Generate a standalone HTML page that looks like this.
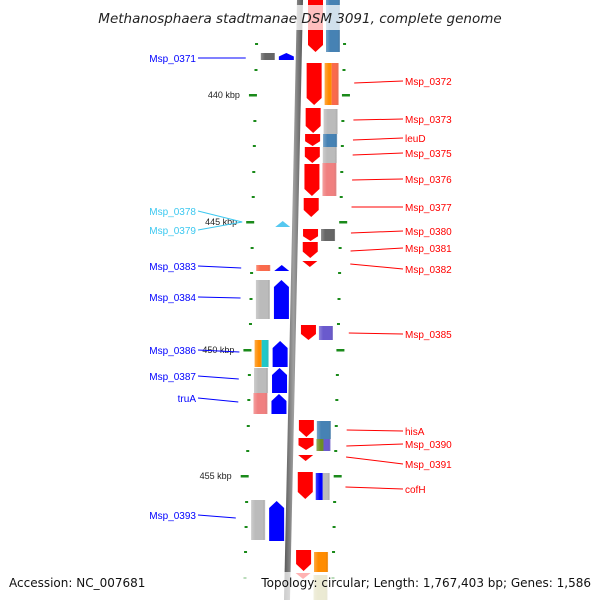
<!DOCTYPE html>
<html><head><meta charset="utf-8"><style>
html,body{margin:0;padding:0;background:#fff}
svg{display:block;font-family:"Liberation Sans",sans-serif}
</style></head><body>
<svg id="map" width="600" height="600" viewBox="0 0 600 600">
<defs>
<linearGradient id="bb" x1="0" x2="1" y1="0" y2="0"><stop offset="0" stop-color="#555"/><stop offset="0.5" stop-color="#a0a0a0"/><stop offset="1" stop-color="#555"/></linearGradient>
<linearGradient id="sh" x1="0" x2="1" y1="0" y2="0"><stop offset="0" stop-color="#fff" stop-opacity="0.25"/><stop offset="0.3" stop-color="#fff" stop-opacity="0"/><stop offset="0.85" stop-color="#000" stop-opacity="0"/><stop offset="1" stop-color="#fff" stop-opacity="0.3"/></linearGradient>
</defs>
<g id="ticks"></g>
<g id="genes"></g>
<polygon points="297,0 303,0 290,600 284,600" fill="url(#bb)"/>
<g id="labels"></g>
<rect x="96" y="5" width="410" height="25" fill="#fff" fill-opacity="0.75"/>
<text x="300" y="23" text-anchor="middle" font-size="13.5" font-style="italic" fill="#222" font-family="DejaVu Sans, sans-serif">Methanosphaera stadtmanae DSM 3091, complete genome</text>
<rect x="0" y="572" width="600" height="28" fill="#fff" fill-opacity="0.7"/>
<text x="9" y="587" font-size="12" fill="#111" font-family="DejaVu Sans, sans-serif">Accession: NC_007681</text>
<text x="591" y="587" text-anchor="end" font-size="12" fill="#111" font-family="DejaVu Sans, sans-serif">Topology: circular; Length: 1,767,403 bp; Genes: 1,586</text>
</svg>
<script>
function bx(y){return 301-13*y/600;}
const NS="http://www.w3.org/2000/svg";
function mk(tag,attrs,parent){const e=document.createElementNS(NS,tag);for(const k in attrs)e.setAttribute(k,attrs[k]);parent.appendChild(e);return e;}

const rightArrowY0=[0,63,108,134,147,164,198,229,242,325,420,438,472,550];
const rightArrowY1=[52,105,133,146,163,196,217,241,258,340,437,450,499,571];
const rightTiny=[261,455,573];
const rightBoxY0=[0,63,109,134,147,163,229,326,421,439,473,552,575];
const rightBoxY1=[52,105,134,147,163,196,241,340,439,451,500,572,600];
const rightBoxCol=[["#4682b4"],["#ff8c00","#fa6a4c"],["#bbb"],["#4682b4"],["#bbb"],["#f08080"],["#666"],["#6a5acd"],["#4682b4"],["#6b8e23","#6a5acd"],["#0000ff","#bbb"],["#ff8c00"],["#bdb76b"]];
const leftArrowY0=[53,280,341,368,394,501];
const leftArrowY1=[60,319,367,393,414,541];
const leftTiny=[[221,"#55c8f0"],[265,"#0000ff"]];
const leftBoxY0=[53,265,280,340,368,393,500];
const leftBoxY1=[60,271,319,367,393,414,540];
const leftBoxCol=[["#666"],["#fa6a4c"],["#bbb"],["#ff8c00","#20c8c8"],["#bbb"],["#f08080"],["#bbb"]];

const minorTicks=[44,70,121,146,172,197,248,273,299,324,375,400,426,451,502,527,552,578];
const majorTicks=[95,222,350,476];
const majorLabels=["440 kbp","445 kbp","450 kbp","455 kbp"];

const leftLabels=["Msp_0371","Msp_0378","Msp_0379","Msp_0383","Msp_0384","Msp_0386","Msp_0387","truA","Msp_0393"];
const leftLabelY=[58,211,230,266,297,350,376,398,515];
const leftLabelTarget=[58,222,222,268,298,352,379,402,518];
const leftLabelCol=["#00f","#3cc8f0","#3cc8f0","#00f","#00f","#00f","#00f","#00f","#00f"];
const rightLabels=["Msp_0372","Msp_0373","leuD","Msp_0375","Msp_0376","Msp_0377","Msp_0380","Msp_0381","Msp_0382","Msp_0385","hisA","Msp_0390","Msp_0391","cofH"];
const rightLabelY=[81,119,138,153,179,207,231,248,269,334,431,444,464,489];
const rightLabelTarget=[83,120,140,155,180,207,233,251,264,333,430,446,457,487];

const tg=document.getElementById('ticks'),gg=document.getElementById('genes'),lg=document.getElementById('labels');
minorTicks.forEach((y,i)=>{
  let e=mk('rect',{x:bx(y)-45,y:y-1,width:3,height:2,fill:'#1a8a1a'},tg);
  
  
  e=mk('rect',{x:bx(y)+43,y:y-1,width:3,height:2,fill:'#1a8a1a'},tg);
  
  
});
majorTicks.forEach((y,i)=>{
  let e=mk('rect',{x:bx(y)-50,y:y-1,width:8,height:2.5,fill:'#1a8a1a'},tg);
  
  
  e=mk('rect',{x:bx(y)+43,y:y-1,width:8,height:2.5,fill:'#1a8a1a'},tg);
  
  
  const t=mk('text',{x:bx(y)-59,y:y+3,'text-anchor':'end','font-size':'9',fill:'#222'},tg);
  t.textContent=majorLabels[i];
  
  
});
function shade(x,y,w,h){mk('rect',{x:x,y:y,width:w,height:h,fill:'url(#sh)'},gg);}
rightArrowY0.forEach((y0,i)=>{
  const y1=rightArrowY1[i],x=bx(y0)+7,w=15,tip=Math.min(7,(y1-y0)*0.4);
  const p=mk('polygon',{points:`${x},${y0} ${x+w},${y0} ${x+w},${y1-tip} ${x+w/2},${y1} ${x},${y1-tip}`,fill:'#f00'},gg);
  
  
});
rightTiny.forEach(y=>{
  const x=bx(y)+7;
  const p=mk('polygon',{points:`${x},${y} ${x+15},${y} ${x+7.5},${y+6}`,fill:'#f00'},gg);
  
  
});
rightBoxY0.forEach((y0,i)=>{
  const y1=rightBoxY1[i],x=bx(y0)+25,w=14,c=rightBoxCol[i],sw=w/c.length;
  c.forEach((col,j)=>{
    const r=mk('rect',{x:x+j*sw,y:y0,width:sw,height:y1-y0,fill:col},gg);
    
    
  });
  shade(x,y0,w,y1-y0);
});
leftArrowY0.forEach((y0,i)=>{
  const y1=leftArrowY1[i],x=bx(y0)-21,w=15,tip=Math.min(7,(y1-y0)*0.5);
  const p=mk('polygon',{points:`${x+w/2},${y0} ${x+w},${y0+tip} ${x+w},${y1} ${x},${y1} ${x},${y0+tip}`,fill:'#00f'},gg);
  
  
});
leftTiny.forEach(([y,c])=>{
  const x=bx(y)-21;
  const p=mk('polygon',{points:`${x+7.5},${y} ${x+15},${y+6} ${x},${y+6}`,fill:c},gg);
  
  
});
leftBoxY0.forEach((y0,i)=>{
  const y1=leftBoxY1[i],x=bx(y0)-39,w=14,c=leftBoxCol[i],sw=w/c.length;
  c.forEach((col,j)=>{
    const r=mk('rect',{x:x+j*sw,y:y0,width:sw,height:y1-y0,fill:col},gg);
    
    
  });
  shade(x,y0,w,y1-y0);
});
leftLabels.forEach((s,i)=>{
  const y=leftLabelY[i],ty=leftLabelTarget[i],c=leftLabelCol[i];
  const t=mk('text',{x:196,y:y+4,'text-anchor':'end','font-size':'10',fill:c},lg);
  t.textContent=s;
  
  
  const l=mk('line',{x1:198,y1:y,x2:bx(ty)-54,y2:ty,stroke:c,'stroke-width':1},lg);
  
  
});
rightLabels.forEach((s,i)=>{
  const y=rightLabelY[i],ty=rightLabelTarget[i];
  const l=mk('line',{x1:bx(ty)+55,y1:ty,x2:403,y2:y,stroke:'#f00','stroke-width':1},lg);
  
  
  const t=mk('text',{x:405,y:y+4,'font-size':'10',fill:'#f00'},lg);
  t.textContent=s;
  
  
});
</script>
</body></html>
